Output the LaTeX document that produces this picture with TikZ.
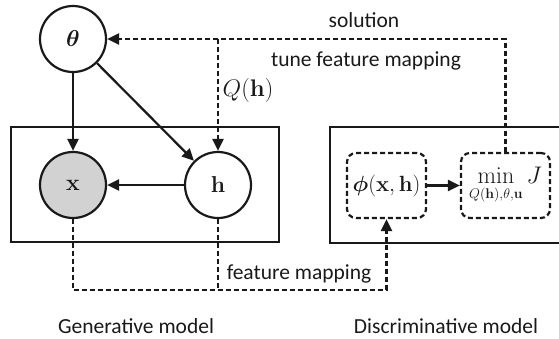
\documentclass[tikz,border=0pt]{standalone}
\usepackage{fix-cm}
\usepackage{amsmath,bm}
\usepackage[no-math]{fontspec}
\setmainfont{Carlito}
\usetikzlibrary{arrows.meta}
\definecolor{ink}{RGB}{25,25,25}
\definecolor{obsgray}{RGB}{210,210,210}

\begin{document}
\begin{tikzpicture}[x=1pt,y=-1pt,
  every node/.style={inner sep=0pt, text=ink},
  lw/.style={line width=2.2pt, draw=ink},
  var/.style={circle, lw, minimum size=66pt, fill=white, font=\fontsize{23}{27}\selectfont},
  obs/.style={var, fill=obsgray},
  frame/.style={lw},
  dbox/.style={lw, dash pattern=on 5pt off 3pt, rounded corners=9pt, font=\fontsize{22}{26}\selectfont},
  link/.style={lw, -{Triangle[length=12pt,width=11pt]}},
  dline/.style={lw, dash pattern=on 5pt off 3pt},
  dlink/.style={link, dash pattern=on 5pt off 3pt},
  lbl/.style={font=\fontsize{21.5}{26}\selectfont},
  mlbl/.style={font=\fontsize{24}{28}\selectfont}
]
\useasboundingbox (0,0) rectangle (559,338);

% model frames
\draw[frame] (11,127) rectangle (279,242);
\draw[frame] (559,127) -- (330,127) -- (330,243) -- (559,243);

% generative model variables
\node[var] (theta) at (73,39) {$\bm{\theta}$};
\node[obs] (x) at (73,185) {$\mathbf{x}$};
\node[var] (h) at (218,185) {$\mathbf{h}$};

% discriminative model blocks
\node[dbox, minimum width=79pt, minimum height=65pt] (phi) at (386.5,185.5) {$\bm{\phi}(\mathbf{x},\mathbf{h})$};
\node[dbox, minimum width=89pt, minimum height=65pt, font=\fontsize{24}{28}\selectfont] (opt) at (505.5,185.5)
  {$\displaystyle\min\limits_{\mbox{\fontsize{14}{16}\selectfont$Q(\mathbf{h}){,}\theta{,}\mathbf{u}$}} J$};

% solid dependencies
\draw[link] (theta) -- (x);
\draw[link] (theta) -- (h);
\draw[link] (h) -- (x);
\draw[link] (phi) -- (opt);

% feedback from the optimiser
\draw[dlink] (opt.north) |- (theta);
\coordinate (split) at (h.north |- theta);
\draw[dlink] (split) -- (h);

% feature mapping path
\coordinate (low) at (73,290);
\draw[dlink] (x.south) -- (low) -| (phi.south);
\draw[dline] (h.south) -- (h.south |- low);

% labels
\node[lbl] (solution) at (364,20) {solution};
\node[lbl] (tune) at (366,61) {tune feature mapping};
\node[mlbl] (qh) at (248,90) {$Q(\mathbf{h})$};
\node[lbl] (fmap) at (299,274) {feature mapping};
\node[lbl] (gen) at (136,326) {Generative model};
\node[lbl] (disc) at (446,326) {Discriminative model};
\end{tikzpicture}
\end{document}
